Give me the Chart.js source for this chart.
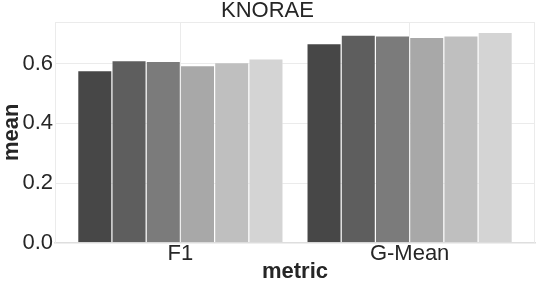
<!DOCTYPE html>
<html>
<head>
<meta charset="utf-8">
<script src="https://cdn.jsdelivr.net/npm/chart.js@4/dist/chart.umd.min.js"></script>
<style>
html,body{margin:0;padding:0;background:#fff;}
#wrap{width:538px;height:284px;}
</style>
</head>
<body>
<div id="wrap"><canvas id="c" width="538" height="284"></canvas></div>
<script>
const categories = ['F1', 'G-Mean'];
const seriesNames = ['Series 1', 'Series 2', 'Series 3', 'Series 4', 'Series 5', 'Series 6'];
const series1 = [0.577, 0.667];
const series2 = [0.610, 0.696];
const series3 = [0.608, 0.693];
const series4 = [0.594, 0.688];
const series5 = [0.604, 0.693];
const series6 = [0.616, 0.705];
const yTicks = [0.0, 0.2, 0.4, 0.6];
const colors = ['#474747', '#5e5e5e', '#7b7b7b', '#a8a8a8', '#bfbfbf', '#d4d4d4'];

const allSeries = [series1, series2, series3, series4, series5, series6];
const datasets = allSeries.map((s, i) => ({
  label: seriesNames[i],
  data: s.map((v, j) => ({x: j, y: v})),
  backgroundColor: colors[i],
  borderColor: 'rgba(255,255,255,0.5)',
  borderWidth: 0.6,
  borderSkipped: 'bottom',
  categoryPercentage: 0.896,
  barPercentage: 1.0
}));

const frame = {
  id: 'frame',
  beforeDatasetsDraw(chart) {
    const a = chart.chartArea, ctx = chart.ctx;
    ctx.save();
    ctx.strokeStyle = '#ebebeb';
    ctx.lineWidth = 1;
    ctx.beginPath();
    ctx.moveTo(a.left, a.top + 0.5);
    ctx.lineTo(a.right, a.top + 0.5);
    ctx.moveTo(a.right - 0.5, a.top);
    ctx.lineTo(a.right - 0.5, a.bottom);
    ctx.stroke();
    ctx.restore();
  }
};

const font = "'Liberation Sans', Arial, Helvetica, sans-serif";
new Chart(document.getElementById('c'), {
  type: 'bar',
  data: { datasets },
  plugins: [frame],
  options: {
    responsive: false,
    animation: false,
    layout: { padding: { left: 0, right: 3, top: 0, bottom: 0 } },
    plugins: {
      legend: { display: false },
      tooltip: { enabled: false },
      title: {
        display: true,
        text: 'KNORAE',
        color: '#262626',
        font: { family: font, size: 22, weight: 'normal', lineHeight: 1.0 },
        padding: { top: 0, bottom: 0 }
      }
    },
    scales: {
      x: {
        type: 'linear',
        min: -0.547,
        max: 1.547,
        offset: false,
        afterFit(s) { s.height = 41.3; },
        afterBuildTicks(s) { s.ticks = categories.map((c, i) => ({ value: i })); },
        ticks: {
          autoSkip: false,
          maxRotation: 0,
          padding: -2,
          color: '#262626',
          font: { family: font, size: 22 },
          callback: (v) => categories[Math.round(v)]
        },
        grid: { color: '#ebebeb', drawTicks: false, tickLength: 0, offset: false },
        border: { color: '#dedede', width: 1.5 },
        title: {
          display: true,
          text: 'metric',
          color: '#262626',
          font: { family: font, size: 22, weight: 'bold', lineHeight: 1.1 },
          padding: { top: 0, bottom: 0 }
        }
      },
      y: {
        min: 0,
        max: 0.74,
        afterFit(s) { s.width = 55; },
        afterBuildTicks(s) { s.ticks = yTicks.map(v => ({ value: v })); },
        ticks: {
          padding: 2,
          color: '#262626',
          font: { family: font, size: 22 },
          callback: (v) => Number(v).toFixed(1)
        },
        grid: { color: '#ebebeb', drawTicks: false, tickLength: 0 },
        border: { color: '#ebebeb' },
        title: {
          display: true,
          text: 'mean',
          color: '#262626',
          font: { family: font, size: 22, weight: 'bold', lineHeight: 1.12 },
          padding: { top: 0, bottom: 0 }
        }
      }
    }
  }
});
</script>
</body>
</html>
